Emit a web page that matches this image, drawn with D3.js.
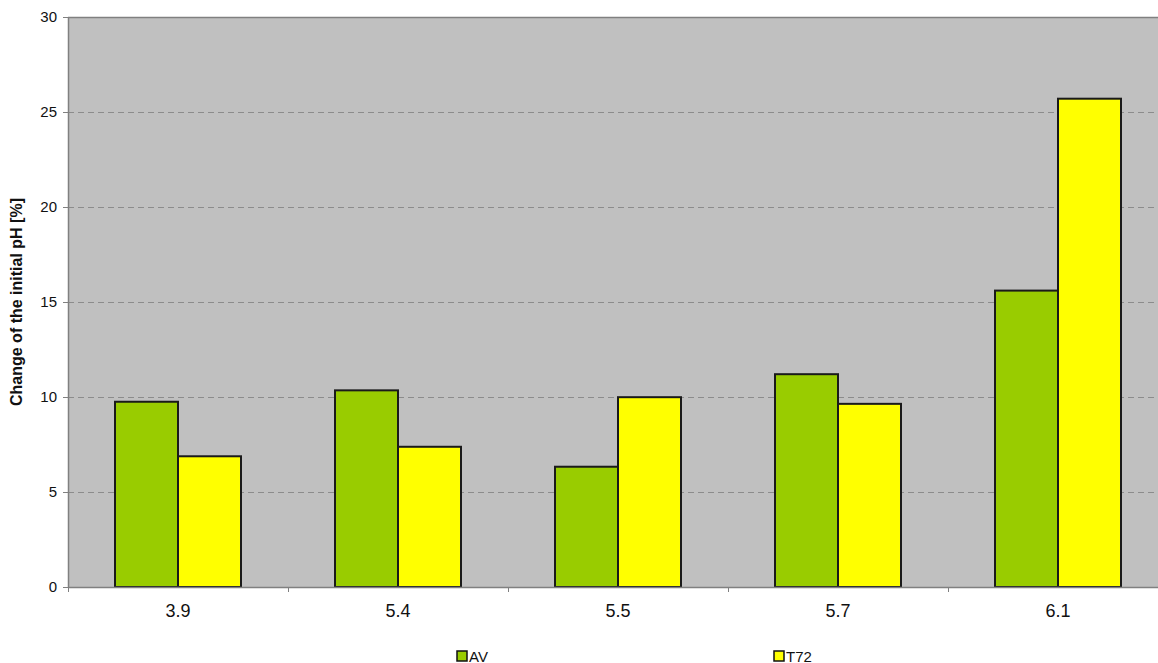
<!DOCTYPE html>
<html>
<head>
<meta charset="utf-8">
<script src="https://cdn.jsdelivr.net/npm/d3@7"></script>
<style>
  body { margin: 0; background: #fff; }
  svg { display: block; font-family: "Liberation Sans", Arial, sans-serif; }
</style>
</head>
<body>
<div id="chart"></div>
<script>
(function () {

  // data
  var categories = ["3.9", "5.4", "5.5", "5.7", "6.1"];
  var seriesNames = ["AV", "T72"];
  var avValues = [9.75, 10.35, 6.33, 11.2, 15.6];
  var t72Values = [6.88, 7.38, 9.99, 9.64, 25.7];
  var yTicks = [0, 5, 10, 15, 20, 25, 30];
  var colors = ["#99cc00", "#ffff00"];

  var w = 1158, h = 663;
  var margin = { top: 17, left: 68 };
  var width = 1100;   // plot runs past the right edge like the original
  var height = 570;

  var svg = d3.select("#chart").append("svg")
    .attr("width", w)
    .attr("height", h);

  var g = svg.append("g")
    .attr("transform", "translate(" + margin.left + "," + margin.top + ")");

  var xScale = d3.scaleBand()
    .domain(categories)
    .range([0, width]);

  var xInner = d3.scaleBand()
    .domain(seriesNames)
    .range([0, 126]);

  var yScale = d3.scaleLinear()
    .domain([0, 30])
    .range([height, 0]);

  // plot background
  g.append("rect")
    .attr("width", width)
    .attr("height", height)
    .style("fill", "#c0c0c0");

  // dashed grid
  g.selectAll(".grid")
    .data(yTicks.filter(function (d) { return d > 0 && d < 30; }))
    .enter()
    .append("line")
    .attr("x1", 0)
    .attr("x2", width)
    .attr("y1", function (d) { return yScale(d) + 0.5; })
    .attr("y2", function (d) { return yScale(d) + 0.5; })
    .style("stroke", "#8c8c8c")
    .style("stroke-dasharray", "6,4")
    .style("stroke-width", 1);

  // top border
  g.append("line")
    .attr("x1", 0).attr("x2", width)
    .attr("y1", 0.5).attr("y2", 0.5)
    .style("stroke", "#808080")
    .style("stroke-width", 1.5);

  // bars
  var rows = categories.map(function (c, i) {
    return { cat: c, values: [avValues[i], t72Values[i]] };
  });

  var groups = g.selectAll(".cat")
    .data(rows)
    .enter()
    .append("g")
    .attr("transform", function (d) {
      return "translate(" + (xScale(d.cat) + xScale.bandwidth() / 2 - 63) + ",0)";
    });

  groups.selectAll("rect")
    .data(function (d) {
      return d.values.map(function (v, j) { return { name: seriesNames[j], value: v, idx: j }; });
    })
    .enter()
    .append("rect")
    .attr("x", function (d) { return xInner(d.name); })
    .attr("y", function (d) { return yScale(d.value); })
    .attr("width", xInner.bandwidth())
    .attr("height", function (d) { return height - yScale(d.value); })
    .style("fill", function (d) { return colors[d.idx]; })
    .style("stroke", "#1a1a1a")
    .style("stroke-width", 2);

  // y axis
  var yAxis = d3.axisLeft(yScale)
    .tickValues(yTicks)
    .tickSize(5)
    .tickSizeOuter(0)
    .tickPadding(6);

  var ya = g.append("g").call(yAxis);
  ya.select(".domain").style("stroke", "#808080").style("stroke-width", 1.5);
  ya.selectAll(".tick line").style("stroke", "#808080");
  ya.selectAll("text")
    .style("font-size", "15px")
    .style("fill", "#111");

  // x axis
  var xAxis = d3.axisBottom(xScale)
    .tickSize(0)
    .tickPadding(17);

  var xa = g.append("g")
    .attr("transform", "translate(0," + height + ")")
    .call(xAxis);
  xa.select(".domain").style("stroke", "#808080").style("stroke-width", 1.5);
  xa.selectAll("text")
    .style("font-size", "18px")
    .style("fill", "#111");

  // x tick marks on category boundaries
  xa.selectAll(".sep")
    .data(categories)
    .enter()
    .append("line")
    .attr("x1", function (d) { return xScale(d) + 0.5; })
    .attr("x2", function (d) { return xScale(d) + 0.5; })
    .attr("y1", 0)
    .attr("y2", 5)
    .style("stroke", "#808080");

  // y axis title
  svg.append("text")
    .attr("transform", "translate(22," + (margin.top + height / 2) + ") rotate(-90)")
    .attr("text-anchor", "middle")
    .text("Change of the initial pH [%]")
    .style("font-size", "16px")
    .style("font-weight", "bold")
    .style("fill", "#111");

  // legend
  var legendX = [457, 774];
  var legend = svg.selectAll(".legend")
    .data(seriesNames)
    .enter()
    .append("g")
    .attr("transform", function (d, i) { return "translate(" + legendX[i] + ",651)"; });

  legend.append("rect")
    .attr("width", 10)
    .attr("height", 10)
    .style("fill", function (d, i) { return colors[i]; })
    .style("stroke", "#111")
    .style("stroke-width", 1.5);

  legend.append("text")
    .attr("x", 12)
    .attr("y", 10.5)
    .text(function (d) { return d; })
    .style("font-size", "15px")
    .style("fill", "#111");

})();
</script>
</body>
</html>
